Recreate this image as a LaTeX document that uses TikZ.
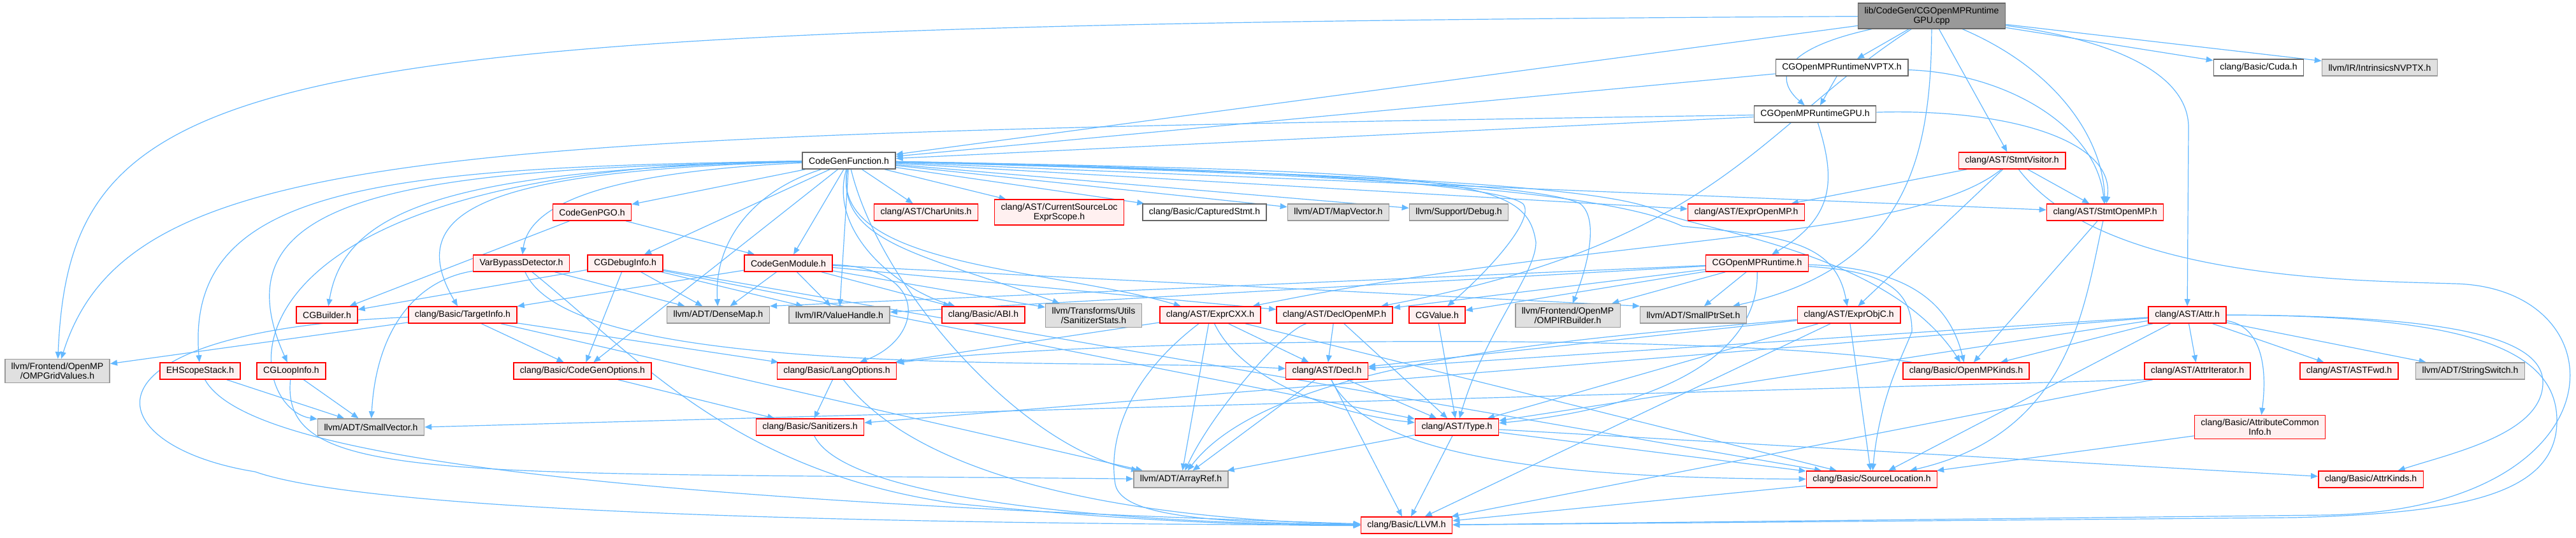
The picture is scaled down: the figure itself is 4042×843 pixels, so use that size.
\documentclass[tikz,border=0pt]{standalone}
\usepackage{fontspec}
\setsansfont{Liberation Sans}
\usetikzlibrary{arrows.meta, backgrounds}
\definecolor{inclink}{HTML}{63B8FF}
\definecolor{hdrfill}{HTML}{FFF0F0}
\definecolor{hdrborder}{HTML}{FF0000}
\definecolor{extfill}{HTML}{E0E0E0}
\definecolor{extborder}{HTML}{999999}
\definecolor{docborder}{HTML}{666666}
\definecolor{rootfill}{HTML}{999999}

\begin{document}
\begin{tikzpicture}[
    x=0.05cm, y=-0.05cm,
    >={Triangle[length=0.55cm, width=0.45cm]},
    file/.style={draw, line width=2.2pt, align=center, inner xsep=0.5cm, inner ysep=0.28cm,
                 minimum height=1.3cm, font=\sffamily\fontsize{20}{21.7}\selectfont},
    hdr/.style={file, fill=hdrfill, draw=hdrborder},
    ext/.style={file, fill=extfill, draw=extborder},
    doc/.style={file, fill=white, draw=docborder},
    root/.style={file, fill=rootfill, draw=docborder},
    inc/.style={->, draw=inclink, line width=1.7pt},
]
\useasboundingbox (0,0) rectangle (4042,843);

% the file itself
\node[root] (gpucpp) at (3031,25) {lib/CodeGen/CGOpenMPRuntime\\GPU.cpp};

\node[doc] (nvptx) at (2890,106) {CGOpenMPRuntimeNVPTX.h};
\node[doc] (cuda) at (3544,106) {clang/Basic/Cuda.h};
\node[ext] (intrnvptx) at (3734,106) {llvm/IR/IntrinsicsNVPTX.h};
\node[doc] (gpuh) at (2848,179) {CGOpenMPRuntimeGPU.h};
\node[doc] (cgf) at (1332,252) {CodeGenFunction.h};
\node[hdr] (stmtvisitor) at (3157,252) {clang/AST/StmtVisitor.h};

\node[hdr] (pgo) at (929,333) {CodeGenPGO.h};
\node[hdr] (charunits) at (1453,333) {clang/AST/CharUnits.h};
\node[hdr] (cursrc) at (1662,333) {clang/AST/CurrentSourceLoc\\ExprScope.h};
\node[doc] (capstmt) at (1890,333) {clang/Basic/CapturedStmt.h};
\node[ext] (mapvector) at (2100,333) {llvm/ADT/MapVector.h};
\node[ext] (debugh) at (2289,333) {llvm/Support/Debug.h};
\node[hdr] (expromp) at (2740,333) {clang/AST/ExprOpenMP.h};
\node[hdr] (stmtomp) at (3303,333) {clang/AST/StmtOpenMP.h};

\node[hdr] (varbypass) at (818,413) {VarBypassDetector.h};
\node[hdr] (debuginfo) at (981,413) {CGDebugInfo.h};
\node[hdr] (cgm) at (1237,413) {CodeGenModule.h};
\node[hdr] (ompruntime) at (2757,413) {CGOpenMPRuntime.h};

\node[hdr] (cgbuilder) at (513,494) {CGBuilder.h};
\node[hdr] (targetinfo) at (726,494) {clang/Basic/TargetInfo.h};
\node[ext] (densemap) at (1127,494) {llvm/ADT/DenseMap.h};
\node[ext] (valuehandle) at (1317,494) {llvm/IR/ValueHandle.h};
\node[hdr] (abi) at (1543,494) {clang/Basic/ABI.h};
\node[ext] (sanstats) at (1716,495) {llvm/Transforms/Utils\\/SanitizerStats.h};
\node[hdr] (exprcxx) at (1899,494) {clang/AST/ExprCXX.h};
\node[hdr] (declomp) at (2094,494) {clang/AST/DeclOpenMP.h};
\node[hdr] (cgvalue) at (2255,494) {CGValue.h};
\node[ext] (ompirb) at (2460,495) {llvm/Frontend/OpenMP\\/OMPIRBuilder.h};
\node[ext] (smallptrset) at (2657,494) {llvm/ADT/SmallPtrSet.h};
\node[hdr] (exprobjc) at (2901,494) {clang/AST/ExprObjC.h};
\node[hdr] (attr) at (3432,494) {clang/AST/Attr.h};

\node[ext] (gridvalues) at (90,582) {llvm/Frontend/OpenMP\\/OMPGridValues.h};
\node[hdr] (ehscope) at (314,582) {EHScopeStack.h};
\node[hdr] (loopinfo) at (457,582) {CGLoopInfo.h};
\node[hdr] (cgopts) at (914,582) {clang/Basic/CodeGenOptions.h};
\node[hdr] (langopts) at (1313,582) {clang/Basic/LangOptions.h};
\node[hdr] (decl) at (2082,582) {clang/AST/Decl.h};
\node[hdr] (ompkinds) at (3085,582) {clang/Basic/OpenMPKinds.h};
\node[hdr] (attriter) at (3448,582) {clang/AST/AttrIterator.h};
\node[hdr] (astfwd) at (3686,582) {clang/AST/ASTFwd.h};
\node[ext] (stringswitch) at (3876,582) {llvm/ADT/StringSwitch.h};

\node[ext] (smallvector) at (582,670) {llvm/ADT/SmallVector.h};
\node[hdr] (sanitizers) at (1271,670) {clang/Basic/Sanitizers.h};
\node[hdr] (typeh) at (2286,670) {clang/AST/Type.h};
\node[hdr] (attrcommon) at (3546,670) {clang/Basic/AttributeCommon\\Info.h};

\node[ext] (arrayref) at (1853,752) {llvm/ADT/ArrayRef.h};
\node[hdr] (srcloc) at (2937,752) {clang/Basic/SourceLocation.h};
\node[hdr] (attrkinds) at (3720,752) {clang/Basic/AttrKinds.h};

\node[hdr] (llvmh) at (2207,824) {clang/Basic/LLVM.h};

\begin{scope}[on background layer]
\fill[white] (0,0) rectangle (4042,843);

% includes of the .cpp file
\foreach \dst in {nvptx,cgf,stmtvisitor,cuda,intrnvptx}
  \draw[inc] (gpucpp) -- (\dst);
\draw[inc] (gpucpp) .. controls (2780,80) and (2790,130) .. (gpuh);
\draw[inc] (gpucpp) .. controls (400,40) and (111,90) .. (gridvalues);
\draw[inc] (gpucpp) .. controls (3230,110) and (3300,220) .. (stmtomp);
\draw[inc] (gpucpp) .. controls (3300,60) and (3434,110) .. (3434,200) -- (attr);
\draw[inc] (gpucpp) .. controls (2760,200) and (2700,380) .. (declomp);
\draw[inc] (gpucpp) .. controls (3030,250) and (2990,420) .. (smallptrset);

\foreach \dst in {gpuh,cgf}
  \draw[inc] (nvptx) -- (\dst);
\draw[inc] (nvptx) .. controls (3150,115) and (3290,200) .. (stmtomp);

\draw[inc] (gpuh) -- (cgf);
\draw[inc] (gpuh) .. controls (2880,280) and (2880,340) .. (ompruntime);
\draw[inc] (gpuh) .. controls (3150,170) and (3320,220) .. (stmtomp);
\draw[inc] (gpuh) .. controls (700,212) and (203,225) .. (gridvalues);

\foreach \dst in {expromp,exprobjc,stmtomp}
  \draw[inc] (stmtvisitor) -- (\dst);
\draw[inc] (stmtvisitor) .. controls (3000,380) and (2500,370) .. (exprcxx);
\draw[inc] (stmtvisitor) .. controls (3300,440) and (3700,440) .. (3850,445)
  .. controls (4120,450) and (4120,800) .. (3650,808) -- (llvmh);

% CodeGenFunction.h
\draw[inc] (cgf) .. controls (600,262) and (290,290) .. (ehscope);
\draw[inc] (cgf) .. controls (650,265) and (330,300) .. (loopinfo);
\draw[inc] (cgf) .. controls (300,260) and (380,640) .. (smallvector);
\draw[inc] (cgf) .. controls (700,266) and (540,330) .. (cgbuilder);
\draw[inc] (cgf) .. controls (760,268) and (630,330) .. (targetinfo);
\draw[inc] (cgf) .. controls (950,270) and (830,320) .. (varbypass);
\foreach \dst in {pgo,debuginfo,cgm,cgopts,valuehandle,charunits,cursrc,capstmt,
                  mapvector,debugh,expromp,stmtomp}
  \draw[inc] (cgf) -- (\dst);
\draw[inc] (cgf) .. controls (1180,300) and (1120,380) .. (densemap);
\draw[inc] (cgf) .. controls (1300,360) and (1400,450) .. (abi);
\draw[inc] (cgf) .. controls (1310,380) and (1450,400) .. (sanstats);
\draw[inc] (cgf) .. controls (1300,420) and (1650,420) .. (exprcxx);
\draw[inc] (cgf) .. controls (1380,450) and (1600,700) .. (arrayref);
\draw[inc] (cgf) .. controls (1900,262) and (2350,285) .. (2390,320)
  .. controls (2410,345) and (2330,430) .. (cgvalue);
\draw[inc] (cgf) .. controls (2300,270) and (2395,280) .. (2410,380)
  .. controls (2410,430) and (2330,520) .. (typeh);
\draw[inc] (cgf) .. controls (1900,265) and (2420,285) .. (2480,320)
  .. controls (2510,345) and (2490,420) .. (ompirb);
\draw[inc] (cgf) .. controls (2000,270) and (2500,290) .. (2640,355)
  .. controls (2800,370) and (2880,380) .. (exprobjc);
\draw[inc] (cgf) .. controls (2000,270) and (2500,285) .. (2600,330)
  .. controls (2650,360) and (2960,390) .. (ompkinds);

\foreach \dst in {cgbuilder,cgm}
  \draw[inc] (pgo) -- (\dst);

\draw[inc] (varbypass) -- (densemap);
\draw[inc] (varbypass) .. controls (650,440) and (590,520) .. (smallvector);
\draw[inc] (varbypass) .. controls (900,600) and (1700,560) .. (decl);
\draw[inc] (varbypass) .. controls (1000,560) and (1150,740) .. (1500,790)
  .. controls (1800,820) and (2000,825) .. (llvmh);

\foreach \dst in {cgbuilder,cgopts,densemap,valuehandle,typeh,srcloc}
  \draw[inc] (debuginfo) -- (\dst);

\foreach \dst in {targetinfo,densemap,valuehandle,abi,sanstats,declomp}
  \draw[inc] (cgm) -- (\dst);
\draw[inc] (cgm) -- (smallptrset.north west);
\draw[inc] (cgm) .. controls (1460,420) and (1450,530) .. (langopts);

\foreach \dst in {cgvalue,declomp,smallptrset,ompirb,valuehandle}
  \draw[inc] (ompruntime) -- (\dst);
\draw[inc] (ompruntime) -- (densemap.north east);
\draw[inc] (ompruntime) .. controls (2760,560) and (2600,640) .. (typeh);
\draw[inc] (ompruntime) .. controls (3000,420) and (3060,480) .. (ompkinds);
\draw[inc] (ompruntime) .. controls (2950,425) and (3000,450) .. (3000,520)
  .. controls (2985,560) and (2950,620) .. (srcloc);

\foreach \dst in {gridvalues,cgopts,langopts,arrayref}
  \draw[inc] (targetinfo) -- (\dst);
\draw[inc] (targetinfo) .. controls (100,520) and (150,700) .. (400,740)
  .. controls (600,810) and (1500,822) .. (llvmh);

\draw[inc] (ehscope) -- (smallvector);
\draw[inc] (ehscope) .. controls (380,700) and (800,780) .. (llvmh);
\draw[inc] (loopinfo) -- (smallvector);
\draw[inc] (loopinfo) .. controls (440,760) and (700,740) .. (arrayref);

\draw[inc] (cgopts) -- (sanitizers);
\draw[inc] (langopts) -- (sanitizers);
\draw[inc] (langopts) .. controls (1450,760) and (1800,815) .. (llvmh);
\draw[inc] (sanitizers) .. controls (1330,790) and (1800,822) .. (llvmh);

\foreach \dst in {langopts,arrayref,decl,srcloc}
  \draw[inc] (exprcxx) -- (\dst);
\draw[inc] (exprcxx) .. controls (1950,600) and (2100,650) .. (typeh);
\draw[inc] (exprcxx) .. controls (1760,600) and (1740,700) .. (1750,760)
  .. controls (1760,810) and (1900,820) .. (llvmh);

\foreach \dst in {decl,typeh}
  \draw[inc] (declomp) -- (\dst);
\draw[inc] (declomp) .. controls (2010,520) and (1900,650) .. (arrayref);
\draw[inc] (cgvalue) -- (typeh);

\foreach \dst in {decl,typeh,llvmh,srcloc}
  \draw[inc] (exprobjc) -- (\dst);
\draw[inc] (exprobjc) .. controls (2500,530) and (2000,560) .. (arrayref);

% clang/AST/Attr.h
\foreach \dst in {astfwd,attriter,stringswitch,ompkinds,decl,typeh,sanitizers,srcloc}
  \draw[inc] (attr) -- (\dst);
\draw[inc] (attr) .. controls (3540,510) and (3560,560) .. (attrcommon);
\draw[inc] (attr) .. controls (3800,495) and (3990,520) .. (3990,600)
  .. controls (3990,680) and (3850,710) .. (attrkinds);
\draw[inc] (attr) .. controls (3850,495) and (4012,540) .. (4012,660)
  .. controls (4012,780) and (3850,805) .. (3600,812) -- (llvmh);

\foreach \dst in {typeh,llvmh,arrayref}
  \draw[inc] (decl) -- (\dst);
\draw[inc] (decl) .. controls (2150,720) and (2450,750) .. (srcloc);

\foreach \dst in {attrkinds,llvmh,srcloc,arrayref}
  \draw[inc] (typeh) -- (\dst);

\draw[inc] (stmtomp) -- (ompkinds);
\draw[inc] (stmtomp) .. controls (3270,480) and (3250,680) .. (srcloc);
\draw[inc] (ompkinds) .. controls (2700,520) and (1700,530) .. (langopts);
\draw[inc] (attriter) -- (llvmh);
\draw[inc] (attriter.south west) -- (smallvector.east);
\draw[inc] (attrcommon) -- (srcloc);
\draw[inc] (srcloc) -- (llvmh);
\end{scope}

\end{tikzpicture}
\end{document}
